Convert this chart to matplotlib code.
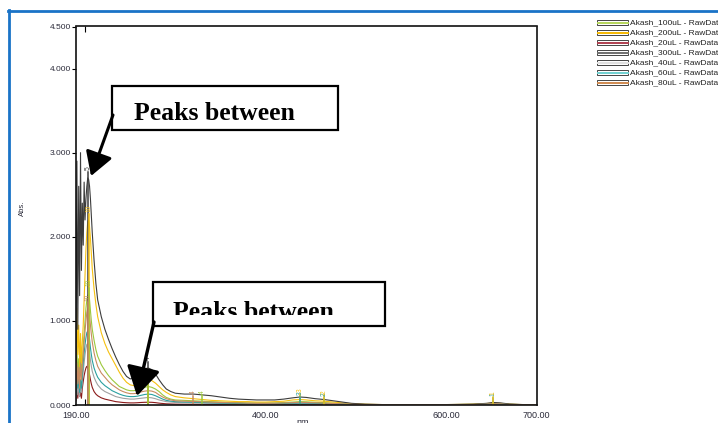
import matplotlib
matplotlib.use("Agg")
from matplotlib import pyplot as plt
from matplotlib.patches import Rectangle, FancyArrowPatch
from matplotlib.lines import Line2D
from matplotlib.transforms import Bbox, TransformedBbox

# wavelength grid (nm)
wl = [190, 191, 192, 193, 194, 195, 196, 197, 198, 199,
      200, 201, 202, 203, 204, 205, 206, 207, 208,
      210, 212, 214,
      218, 222, 226, 230, 234, 238, 242, 246,
      250, 254, 258, 262, 266, 270,
      274, 278, 282, 286, 290,
      295, 300,
      310, 320, 330, 340, 350, 360, 370, 380, 390, 400,
      410, 420, 430, 438, 445, 455, 465, 475, 485, 495,
      510, 530, 560, 600, 630, 645, 652, 660, 670, 685, 700]

abs_100 = [0.3, 0.7, 0.35, 0.55, 0.25, 0.6, 0.4, 0.5, 0.7, 0.85,
           1.0, 1.15, 1.25, 1.3, 1.32, 1.25, 1.12, 1.0, 0.9,
           0.77, 0.66, 0.58,
           0.48, 0.41, 0.35, 0.3, 0.26, 0.22, 0.2, 0.18,
           0.17, 0.17, 0.18, 0.2, 0.21, 0.22,
           0.21, 0.19, 0.16, 0.12, 0.09,
           0.07, 0.06,
           0.055, 0.05, 0.045, 0.04, 0.035, 0.03, 0.03, 0.025, 0.025, 0.025,
           0.025, 0.03, 0.035, 0.04, 0.038, 0.032, 0.028, 0.022, 0.016, 0.01,
           0.006, 0.004, 0.004, 0.004, 0.008, 0.014, 0.02, 0.016, 0.008, 0.004, 0.004]

abs_200 = [0.5, 1.15, 0.6, 0.95, 0.45, 0.85, 0.5, 0.75, 0.95, 1.25,
           1.55, 1.85, 2.05, 2.18, 2.2, 2.12, 1.98, 1.8, 1.62,
           1.38, 1.2, 1.05,
           0.86, 0.73, 0.63, 0.55, 0.47, 0.39, 0.32, 0.27,
           0.24, 0.23, 0.25, 0.28, 0.3, 0.31,
           0.29, 0.26, 0.22, 0.18, 0.15,
           0.12, 0.1,
           0.085, 0.075, 0.065, 0.055, 0.05, 0.045, 0.04, 0.04, 0.035, 0.035,
           0.04, 0.045, 0.06, 0.065, 0.06, 0.05, 0.045, 0.035, 0.025, 0.015,
           0.01, 0.005, 0.005, 0.005, 0.01, 0.018, 0.025, 0.02, 0.01, 0.005, 0.005]

abs_20 = [0.05, 0.2, 0.08, 0.25, 0.1, 0.15, 0.08, 0.2, 0.28, 0.35,
          0.4, 0.44, 0.46, 0.45, 0.42, 0.36, 0.3, 0.25, 0.21,
          0.16, 0.13, 0.11,
          0.085, 0.07, 0.06, 0.05, 0.04, 0.035, 0.03, 0.027,
          0.025, 0.025, 0.027, 0.03, 0.032, 0.033,
          0.032, 0.028, 0.022, 0.018, 0.014,
          0.012, 0.01,
          0.009, 0.008, 0.007, 0.007, 0.006, 0.006, 0.005, 0.005, 0.005, 0.005,
          0.005, 0.006, 0.007, 0.008, 0.008, 0.007, 0.006, 0.005, 0.004, 0.003,
          0.002, 0.001, 0.001, 0.001, 0.002, 0.003, 0.005, 0.004, 0.002, 0.001, 0.001]

abs_300 = [0.4, 2.9, 0.9, 2.6, 1.3, 3.0, 1.6, 2.4, 1.9, 2.65,
           2.2, 2.45, 2.6, 2.7, 2.68, 2.6, 2.45, 2.25, 2.05,
           1.72, 1.45, 1.25,
           1.05, 0.9, 0.78, 0.67, 0.57, 0.48, 0.4, 0.34,
           0.31, 0.32, 0.36, 0.4, 0.43, 0.44,
           0.42, 0.37, 0.3, 0.24, 0.19,
           0.16, 0.14,
           0.13, 0.13, 0.12, 0.11, 0.095, 0.08, 0.07, 0.065, 0.06, 0.06,
           0.06, 0.07, 0.085, 0.095, 0.09, 0.075, 0.065, 0.05, 0.035, 0.02,
           0.01, 0.005, 0.005, 0.005, 0.01, 0.02, 0.03, 0.025, 0.012, 0.005, 0.005]

abs_40 = [0.1, 0.3, 0.12, 0.25, 0.1, 0.22, 0.15, 0.28, 0.4, 0.5,
          0.6, 0.67, 0.72, 0.73, 0.7, 0.62, 0.53, 0.46, 0.4,
          0.33, 0.28, 0.24,
          0.19, 0.16, 0.14, 0.12, 0.1, 0.09, 0.08, 0.075,
          0.07, 0.07, 0.075, 0.08, 0.085, 0.09,
          0.085, 0.075, 0.06, 0.05, 0.04,
          0.035, 0.03,
          0.027, 0.024, 0.022, 0.02, 0.018, 0.016, 0.014, 0.012, 0.011, 0.011,
          0.012, 0.013, 0.016, 0.018, 0.017, 0.015, 0.013, 0.01, 0.007, 0.004,
          0.003, 0.002, 0.002, 0.002, 0.004, 0.007, 0.01, 0.008, 0.004, 0.002, 0.002]

abs_60 = [0.15, 0.4, 0.2, 0.35, 0.15, 0.3, 0.2, 0.35, 0.5, 0.62,
          0.72, 0.8, 0.86, 0.88, 0.86, 0.78, 0.68, 0.6, 0.53,
          0.44, 0.38, 0.33,
          0.27, 0.23, 0.2, 0.17, 0.15, 0.13, 0.115, 0.105,
          0.1, 0.1, 0.105, 0.115, 0.125, 0.13,
          0.125, 0.11, 0.09, 0.07, 0.055,
          0.045, 0.04,
          0.035, 0.032, 0.029, 0.026, 0.023, 0.02, 0.018, 0.016, 0.015, 0.015,
          0.016, 0.018, 0.022, 0.025, 0.024, 0.02, 0.018, 0.014, 0.01, 0.006,
          0.004, 0.002, 0.002, 0.002, 0.005, 0.009, 0.014, 0.011, 0.005, 0.002, 0.002]

abs_80 = [0.2, 0.5, 0.25, 0.45, 0.2, 0.5, 0.3, 0.45, 0.6, 0.75,
          0.88, 1.0, 1.1, 1.15, 1.14, 1.06, 0.95, 0.84, 0.75,
          0.62, 0.53, 0.46,
          0.38, 0.33, 0.28, 0.24, 0.21, 0.18, 0.16, 0.145,
          0.135, 0.135, 0.14, 0.155, 0.165, 0.17,
          0.165, 0.15, 0.12, 0.095, 0.075,
          0.06, 0.05,
          0.045, 0.042, 0.038, 0.034, 0.03, 0.027, 0.025, 0.022, 0.02, 0.02,
          0.021, 0.024, 0.028, 0.032, 0.03, 0.026, 0.022, 0.018, 0.013, 0.008,
          0.005, 0.003, 0.003, 0.003, 0.006, 0.011, 0.016, 0.013, 0.006, 0.003, 0.003]

series_names = ["Akash_100uL - RawData", "Akash_200uL - RawData", "Akash_20uL - RawData",
                "Akash_300uL - RawData", "Akash_40uL - RawData", "Akash_60uL - RawData",
                "Akash_80uL - RawData"]
series_values = [abs_100, abs_200, abs_20, abs_300, abs_40, abs_60, abs_80]
line_colors = ["#9cc83c", "#f5c010", "#8b1a1a", "#3c3c3c", "#a0a0a0", "#2aa0a0", "#c88a60"]
legend_colors = ["#b5d55a", "#f5b800", "#b04050", "#707070", "#e0e0e0", "#70d0d0", "#d08a50"]

# peak picks shown by the software (series index, wavelength, label)
peak_series = [3, 1, 0, 6, 3, 1, 0, 6, 0, 1, 5, 5, 1, 5, 1]
peak_wl = [203, 204, 204, 203, 270, 270, 270, 320, 330, 438, 438, 465, 465, 652, 652]
peak_text = ["5", "10", "10", "10", "4", "4", "13", "4", "4", "3", "3", "2", "2", "1", "1"]

yticks = [0, 1, 2, 3, 4, 4.5]
ytick_labels = ["0.000", "1.000", "2.000", "3.000", "4.000", "4.500"]
xticks = [190, 400, 600, 700]
xtick_labels = ["190.00", "400.00", "600.00", "700.00"]

W, H = 718, 423


def fx(px):
    return px / W


def fy(py):
    return 1 - py / H


plt.rcParams['font.family'] = ['Liberation Sans', 'DejaVu Sans']
fig = plt.figure(figsize=(W / 100, H / 100), dpi=100)
ax = fig.add_axes([fx(76), fy(405), fx(536.5) - fx(76), fy(26.5) - fy(405)])

for vals, col in zip(series_values, line_colors):
    ax.plot(wl, vals, color=col, lw=0.8)

for si, w, t in zip(peak_series, peak_wl, peak_text):
    v = series_values[si][wl.index(w)]
    col = line_colors[si]
    ax.plot([w, w], [0, v + 0.07], color=col, lw=1.1)
    ax.text(w, v + 0.09, t, rotation=90, fontsize=4.8, color=col,
            ha='center', va='bottom')

ax.set_xlim(190, 700)
ax.set_ylim(0, 4.5)
ax.set_yticks(yticks)
ax.set_yticklabels(ytick_labels)
ax.set_yticks([1, 2, 3, 4], minor=True)
ax.set_xticks(xticks)
ax.set_xticklabels(xtick_labels)
ax.set_xticks([200, 400, 600], minor=True)
ax.tick_params(axis='y', which='major', direction='out', length=3, width=0.8,
               labelsize=6, pad=0.5, labelcolor='#2b2b3a')
ax.tick_params(axis='y', which='minor', left=False, right=True, direction='in',
               length=4, width=0.8)
ax.tick_params(axis='x', which='major', length=0, labelsize=6.5, pad=4,
               labelcolor='#2b2b3a')
ax.tick_params(axis='x', which='minor', bottom=True, top=True, direction='in',
               length=4, width=0.8)
for sp in ax.spines.values():
    sp.set_linewidth(1.2)
    sp.set_color('#111111')

fig.text(fx(22), fy(208), "Abs.", rotation=90, fontsize=5.5, ha='center', va='center',
         color='#2b2b3a')
fig.text(fx(303), fy(418), "nm", fontsize=6.5, ha='center', va='top', color='#2b2b3a')

# blue frame of the screenshot
fig.add_artist(Line2D([fx(9), fx(9)], [0, fy(10)], transform=fig.transFigure,
                      color='#1a73c7', lw=2.0))
fig.add_artist(Line2D([fx(8), 1], [fy(11), fy(11)], transform=fig.transFigure,
                      color='#1a73c7', lw=2.0))

# legend
for i, (name, col) in enumerate(zip(series_names, legend_colors)):
    yc = 22.7 + i * 9.97
    fig.add_artist(Rectangle((fx(597), fy(yc + 2.6)), fx(628) - fx(597), fy(yc - 2.6) - fy(yc + 2.6),
                             transform=fig.transFigure, facecolor='white',
                             edgecolor='#444444', lw=0.7))
    fig.add_artist(Line2D([fx(597.5), fx(627.5)], [fy(yc), fy(yc)], transform=fig.transFigure,
                          color=col, lw=1.4))
    fig.text(fx(629.5), fy(yc), name, fontsize=6, va='center', ha='left', color='#222222')

# annotation boxes and arrows
for (x0, y0, x1, y1) in [(112, 86, 338, 130), (153, 282, 385, 326)]:
    fig.add_artist(Rectangle((fx(x0), fy(y1)), fx(x1) - fx(x0), fy(y0) - fy(y1),
                             transform=fig.transFigure, facecolor='white',
                             edgecolor='black', lw=1.6, zorder=3))

t1 = fig.text(fx(134), fy(120), "Peaks between", fontsize=18.5, fontweight='bold',
              family=['Liberation Serif', 'DejaVu Serif'], va='baseline', ha='left', zorder=4)
t2 = fig.text(fx(173), fy(319), "Peaks between", fontsize=18.5, fontweight='bold',
              family=['Liberation Serif', 'DejaVu Serif'], va='baseline', ha='left', zorder=4)
t2.set_clip_box(TransformedBbox(Bbox([[fx(154), fy(315)], [fx(384), fy(283)]]),
                                fig.transFigure))
t2.set_clip_on(True)

fig.add_artist(FancyArrowPatch((fx(113), fy(115)), (fx(91), fy(176)), transform=fig.transFigure,
                               arrowstyle='-|>,head_length=1.1,head_width=0.65',
                               mutation_scale=13, lw=2.2, color='black',
                               shrinkA=0, shrinkB=0, zorder=5))
fig.add_artist(FancyArrowPatch((fx(154), fy(322)), (fx(137), fy(396)), transform=fig.transFigure,
                               arrowstyle='-|>,head_length=1.1,head_width=0.65',
                               mutation_scale=16, lw=2.4, color='black',
                               shrinkA=0, shrinkB=0, zorder=5))

fig.savefig("out.png", dpi=100)
